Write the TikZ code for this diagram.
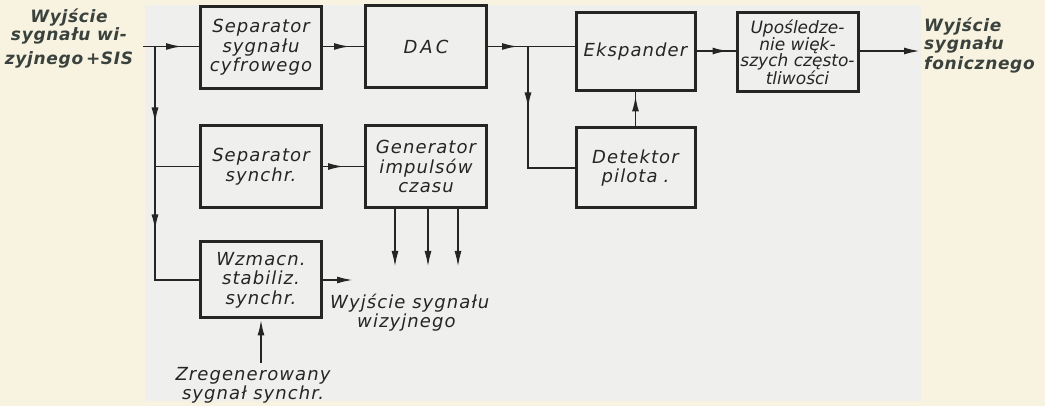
\documentclass[tikz,border=0pt]{standalone}
\usepackage{fontspec}
\setmainfont{DejaVu Sans}
\newfontfamily\boxfont[LetterSpace=6]{DejaVu Sans}
\newfontfamily\tightfont[LetterSpace=0]{DejaVu Sans}
\newfontfamily\lblfont[LetterSpace=4]{DejaVu Sans}
\usetikzlibrary{arrows.meta,decorations.markings}
\definecolor{cream}{HTML}{F8F2E0}
\definecolor{paper}{HTML}{EFEFEE}
\definecolor{ink}{HTML}{252525}
\definecolor{lblink}{HTML}{3A423E}
\tikzset{
  blockbox/.style={draw=ink, line width=3pt, minimum width=121pt, minimum height=82pt,
    inner sep=2pt, align=center, text=ink, font=\boxfont\itshape\fontsize{18}{19.5}\selectfont},
  conn/.style={draw=ink, line width=1.9pt},
  tipend/.style={-{Latex[length=16pt,width=7pt]}},
  arrowat/.style={postaction={decorate, decoration={markings,
     mark=at position #1 with {\arrow{Latex[length=16pt,width=7pt]}}}}},
  boldlbl/.style={text=lblink, inner sep=0pt, font=\lblfont\bfseries\itshape\fontsize{17}{18}\selectfont},
  plainlbl/.style={text=ink, inner sep=0pt, font=\boxfont\itshape\fontsize{18}{19}\selectfont}
}
\begin{document}
\begin{tikzpicture}[x=1pt,y=-1pt]
\useasboundingbox (0,0) rectangle (1045,406);
\fill[cream] (0,0) rectangle (1045,406);
\fill[paper] (145,5) rectangle (921,401);

% blocks
\node[blockbox] (sepc) at (261,47.5) {Separator\\sygnału\\cyfrowego};
\node[blockbox] (dac) at (426,47) {D\,A\,C};
\node[blockbox, minimum width=119pt, minimum height=78pt] (eksp) at (635.5,51.5) {Ekspander};
\node[blockbox, minimum height=79pt, inner sep=0pt, font=\tightfont\itshape\fontsize{17}{16.5}\selectfont] (upos) at (797.5,52.5) {Upośledze-\\nie więk-\\szych często-\\tliwości};
\node[blockbox] (seps) at (261,166.5) {Separator\\synchr.};
\node[blockbox] (gen) at (426,166.5) {Generator\\impulsów\\czasu};
\node[blockbox, minimum width=119pt, minimum height=80pt] (det) at (635.5,168) {Detektor\\pilota\hspace{6pt}.};
\node[blockbox, minimum height=76pt] (wzm) at (261,280) {Wzmacn.\\stabiliz.\\synchr.};

% labels
\node[boldlbl, align=center] (inlbl) at (69,39) {Wyjście\\sygnału wi-\\[6pt]zyjnego\,+SIS};
\node[boldlbl, align=left, anchor=west] (outlbl) at (924,46) {Wyjście\\sygnału\\[2pt]fonicznego};
\node[plainlbl, align=left, anchor=north west] (vidlbl) at (330,294) {Wyjście sygnału\\\hspace*{27pt}wizyjnego};
\node[plainlbl, align=center] (reglbl) at (253,385) {Zregenerowany\\sygnał synchr.};

% coordinates
\coordinate (in1) at (143,46.5);
\coordinate (j1) at (155,46.5);
\coordinate (j2) at (155,166.5);
\coordinate (j3) at (528,46.5);
\coordinate (out1) at (920,51);
\coordinate (g1) at (395,267);
\coordinate (g2) at (428,267);
\coordinate (g3) at (458,267);
\coordinate (wout) at (353,280);
\coordinate (rin) at (261,363);

% connectors
\draw[conn, arrowat=39pt] (in1) -- (sepc.west |- in1);
\draw[conn, arrowat=77pt, arrowat=184pt] (j1) |- (wzm.west);
\draw[conn] (j2) -- (seps.west);
\draw[conn, arrowat=27pt] (sepc.east |- in1) -- (dac.west |- in1);
\draw[conn, arrowat=30pt] (dac.east |- in1) -- (eksp.west |- in1);
\draw[conn, arrowat=62pt] (j3) |- (det.west);
\draw[conn, arrowat=31pt] (det.north) -- (eksp.south);
\draw[conn, arrowat=32pt] (eksp.east |- out1) -- (upos.west |- out1);
\draw[conn, tipend] (upos.east |- out1) -- (out1);
\draw[conn, arrowat=21pt] (seps.east) -- (gen.west);
\draw[conn, tipend] (gen.south -| g1) -- (g1);
\draw[conn, tipend] (gen.south -| g2) -- (g2);
\draw[conn, tipend] (gen.south -| g3) -- (g3);
\draw[conn, tipend] (wzm.east) -- (wout);
\draw[conn, tipend] (rin) -- (wzm.south);
\end{tikzpicture}
\end{document}
